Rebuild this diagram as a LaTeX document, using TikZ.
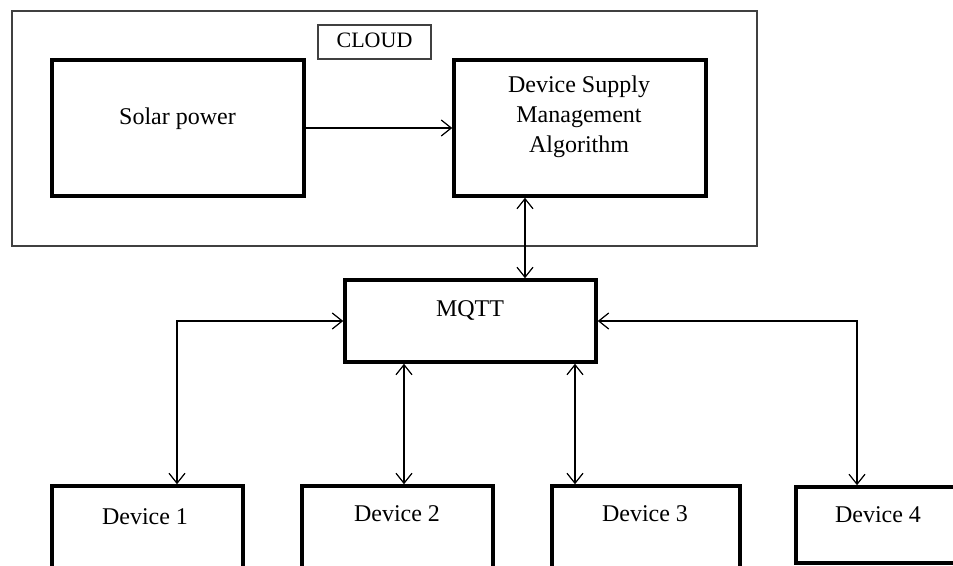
\documentclass[tikz,border=0pt]{standalone}
\usepackage{fontspec}
\setmainfont{Liberation Serif}
\usetikzlibrary{arrows.meta}

\tikzset{
  blk/.style={draw, line width=1.8pt, inner sep=0pt},
  frame/.style={draw=black!75, line width=0.7pt, inner sep=0pt},
  lbl/.style={font=\fontsize{12}{15}\selectfont, inner sep=0pt, align=center},
  link/.style={line width=0.6pt, -{Straight Barb[length=5pt,width=8pt]}},
  dlink/.style={line width=0.6pt, {Straight Barb[length=5pt,width=8pt]}-{Straight Barb[length=5pt,width=8pt]}}
}

\begin{document}
\begin{tikzpicture}[x=0.5pt,y=-0.5pt]

        \useasboundingbox (0,0) rectangle (953,566);
        \clip (0,0) rectangle (953,566);

        % cloud part
        \node[frame, minimum width=372.5pt, minimum height=117.5pt] (cloud) at (384.5,128.5) {};
        \node[frame, minimum width=56.5pt, minimum height=17pt] (cloudtag) at (374.5,42) {};
        \node[lbl, font=\fontsize{11}{13}\selectfont, anchor=base] (cloudtxt) at (374.5,48) {CLOUD};

        \node[blk, minimum width=126pt, minimum height=68pt] (solar) at (178,128) {};
        \node[blk, minimum width=126pt, minimum height=68pt] (dsma) at (580,128) {};

        % broker
        \node[blk, minimum width=125.5pt, minimum height=41pt] (mqtt) at (470.5,321) {};

        % devices
        \foreach \nm/\cx/\cy/\w/\h in {dev1/147.5/527.5/95.5/41.5, dev2/397.5/527.5/95.5/41.5,
                                       dev3/646/527.5/94/41.5, dev4/878/525/82/38}
            \node[blk, minimum width=\w pt, minimum height=\h pt] (\nm) at (\cx,\cy) {};

        % texts
        \node[lbl, anchor=base] (solartxt) at (177.5,125) {Solar power};
        \node[lbl] (dsmatxt) at (579,117) {Device Supply\\Management\\Algorithm};
        \node[lbl, anchor=base] (mqtttxt) at (470,317) {MQTT};
        \foreach \i/\tx/\ty in {1/145/524, 2/397/522, 3/645/522, 4/878/523}
            \node[lbl, anchor=base] (devtxt\i) at (\tx,\ty) {Device \i};

        % links
        \draw[link] (solar.east) -- (dsma.west);
        \draw[dlink] (525,0 |- mqtt.north) -- (525,0 |- dsma.south);
        \draw[dlink] (mqtt.west) -| (177,0 |- dev1.north);
        \draw[dlink] (404,0 |- mqtt.south) -- (404,0 |- dev2.north);
        \draw[dlink] (575,0 |- mqtt.south) -- (575,0 |- dev3.north);
        \draw[dlink] (mqtt.east) -| (857,0 |- dev4.north);

\end{tikzpicture}
\end{document}
